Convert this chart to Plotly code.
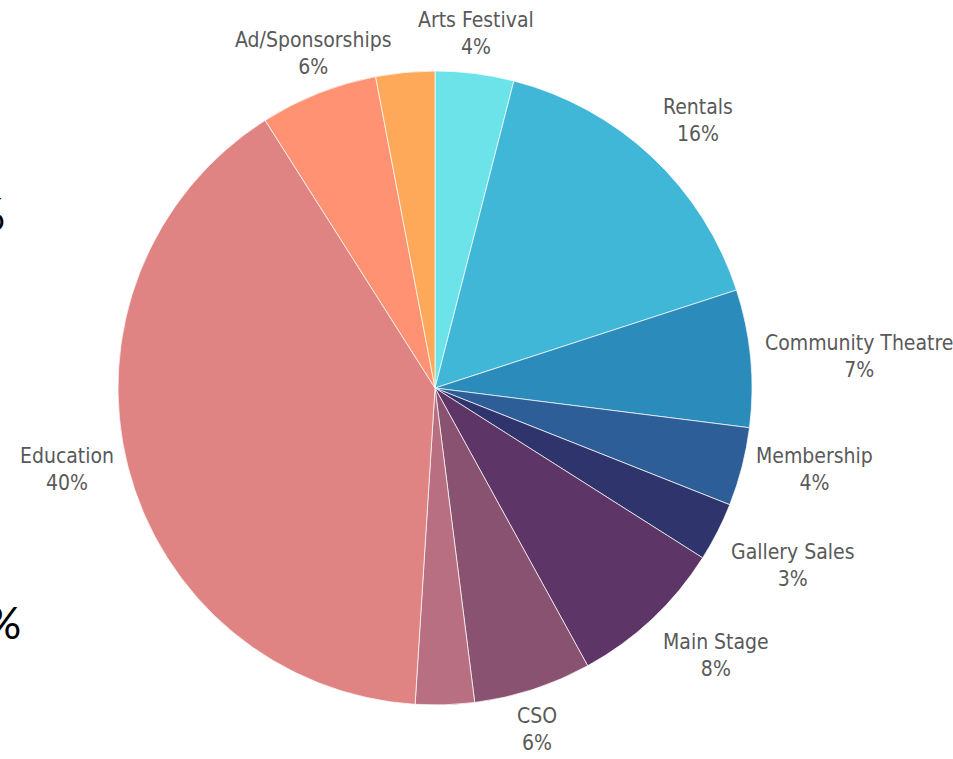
import math
import plotly.graph_objects as go

labels = ["Arts Festival", "Rentals", "Community Theatre", "Membership", "Gallery Sales",
          "Main Stage", "CSO", "Other", "Education", "Ad/Sponsorships", "Donations"]
values = [4, 16, 7, 4, 3, 8, 6, 3, 40, 6, 3]
show_label = [True, True, True, True, True, True, True, False, True, True, False]
colors = ["#6BE3E9", "#41B7D7", "#2B8BBA", "#2D5E98", "#2F346C",
          "#5E3567", "#8A5271", "#B96F82", "#E08383", "#FE9272", "#FEA95A"]

total = sum(values)

W, H = 953, 759
cx, cy, r = 435, 388, 317
label_r = 1.04   # label ring, relative to the pie radius
ax_r = 1.15      # extent of the hidden helper axes, relative to the pie radius
dom_x = [(cx - r) / W, (cx + r) / W]
dom_y = [(H - cy - r) / H, (H - cy + r) / H]
adom_x = [(cx - r * ax_r) / W, (cx + r * ax_r) / W]
adom_y = [(H - cy - r * ax_r) / H, (H - cy + r * ax_r) / H]
font = dict(family="DejaVu Sans Condensed, Liberation Sans Narrow, sans-serif",
            size=21, color="#595959")

fig = go.Figure()
fig.add_trace(go.Pie(
    labels=labels,
    values=values,
    textinfo="none",
    sort=False,
    direction="clockwise",
    rotation=0,
    marker=dict(colors=colors, line=dict(color="white", width=0.7)),
    domain=dict(x=dom_x, y=dom_y),
    showlegend=False,
    hoverinfo="label+percent",
))
# empty helper trace so the (hidden) axes used to place the labels exist
fig.add_trace(go.Scatter(x=[], y=[], showlegend=False, hoverinfo="skip"))

acc = 0
for lab, v, show in zip(labels, values, show_label):
    a = math.radians((acc + v / 2) / total * 360)
    acc += v
    if not show:
        continue
    s, c = math.sin(a), math.cos(a)
    xa = "center" if abs(s) < 0.45 else ("left" if s > 0 else "right")
    ya = "bottom" if c > 0.5 else ("top" if c < -0.3 else "middle")
    fig.add_annotation(
        x=label_r * s, y=label_r * c, xref="x", yref="y",
        text=f"{lab}<br>{round(v / total * 100)}%",
        xanchor=xa, yanchor=ya, align="center", showarrow=False, font=font,
    )

fig.add_annotation(text="%", xref="paper", yref="paper", x=7 / W, y=1 - 213 / H,
                   xanchor="right", yanchor="middle", showarrow=False,
                   font=dict(family="Lato, sans-serif", size=44, color="black"))
fig.add_annotation(text="%", xref="paper", yref="paper", x=23 / W, y=1 - 622 / H,
                   xanchor="right", yanchor="middle", showarrow=False,
                   font=dict(family="Lato, sans-serif", size=44, color="black"))

fig.update_layout(
    width=W, height=H,
    margin=dict(l=0, r=0, t=0, b=0),
    paper_bgcolor="white",
    plot_bgcolor="rgba(0,0,0,0)",
    xaxis=dict(domain=adom_x, range=[-ax_r, ax_r], visible=False, fixedrange=True),
    yaxis=dict(domain=adom_y, range=[-ax_r, ax_r], visible=False, fixedrange=True),
)

fig.write_html("out.html", config={"displayModeBar": False},
               post_script="document.body.style.margin='0px';")
